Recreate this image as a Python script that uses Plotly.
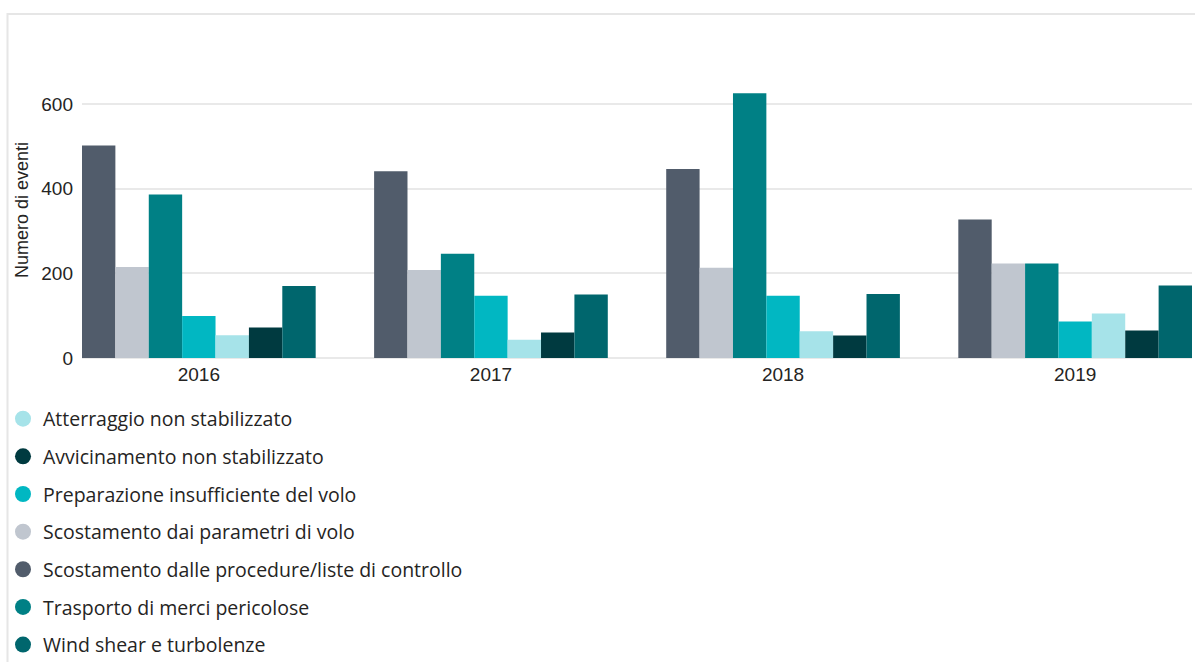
import plotly.graph_objects as go

# Years on the category axis
anni = ["2016", "2017", "2018", "2019"]

# Event counts per category, one list per series (bar order inside each year)
scostamento_procedure = [502, 441, 446, 327]
scostamento_parametri = [215, 208, 213, 223]
trasporto_merci = [386, 246, 625, 223]
preparazione_volo = [99, 147, 147, 86]
atterraggio_non_stab = [54, 43, 63, 105]
avvicinamento_non_stab = [72, 60, 53, 65]
wind_shear = [170, 150, 151, 171]

y_ticks = [0, 200, 400, 600]

# (name, values, colour, legend position)
series = [
    ("Scostamento dalle procedure/liste di controllo", scostamento_procedure, "#515C6B", 5),
    ("Scostamento dai parametri di volo", scostamento_parametri, "#C0C6CF", 4),
    ("Trasporto di merci pericolose", trasporto_merci, "#008085", 6),
    ("Preparazione insufficiente del volo", preparazione_volo, "#01B7C2", 3),
    ("Atterraggio non stabilizzato", atterraggio_non_stab, "#A6E3E9", 1),
    ("Avvicinamento non stabilizzato", avvicinamento_non_stab, "#003A40", 2),
    ("Wind shear e turbolenze", wind_shear, "#00666D", 7),
]

W, H = 1195, 662
ML, MR, MT, MB = 82, 3, 61, 304
PW, PH = W - ML - MR, H - MT - MB


def px_x(p):
    return (p - ML) / PW


def px_y(p):
    return (H - MB - p) / PH


fig = go.Figure()

for name, vals, col, rank in series:
    fig.add_trace(go.Bar(
        x=anni, y=vals, name=name,
        marker=dict(color=col, line=dict(width=0)),
        showlegend=False,
    ))

# Legend entries drawn as round markers
for name, vals, col, rank in series:
    fig.add_trace(go.Scatter(
        x=[None], y=[None], mode="markers", name=name,
        marker=dict(color=col, size=16, symbol="circle"),
        legendgroup=name, legendrank=rank, showlegend=True,
    ))

fig.update_layout(
    width=W, height=H,
    margin=dict(l=ML, r=MR, t=MT, b=MB, autoexpand=False),
    paper_bgcolor="white", plot_bgcolor="white",
    barmode="group", bargap=0.2, bargroupgap=0,
    font=dict(family="Liberation Sans, Arial, sans-serif", color="#252423"),
    showlegend=True,
    legend=dict(
        orientation="v", x=px_x(3), y=px_y(399.5), xanchor="left", yanchor="top",
        font=dict(family="Open Sans, sans-serif", size=19.5, color="#252423"),
        tracegroupgap=9.3, bgcolor="rgba(0,0,0,0)", borderwidth=0,
    ),
    xaxis=dict(
        type="category", range=[-0.4, 3.4], showgrid=False, showline=False,
        zeroline=False, ticks="", ticklabelstandoff=3,
        tickfont=dict(size=19, color="#252423"), fixedrange=True,
    ),
    yaxis=dict(
        range=[0, PH / 0.4235], tickvals=y_ticks, showgrid=True,
        gridcolor="#E9E9E9", gridwidth=1.5, zeroline=True, zerolinecolor="#E9E9E9",
        zerolinewidth=1.5, showline=False, ticks="", ticklabelstandoff=8,
        tickfont=dict(size=19, color="#252423"), fixedrange=True,
    ),
    annotations=[dict(
        text="Numero di eventi", x=px_x(22), y=px_y(210), xref="paper", yref="paper",
        xanchor="center", yanchor="middle", textangle=-90, showarrow=False,
        font=dict(size=18, color="#252423"),
    )],
    shapes=[dict(
        type="rect", xref="paper", yref="paper",
        x0=px_x(7.5), x1=px_x(1210), y0=px_y(680), y1=px_y(14),
        line=dict(color="#E6E6E6", width=2), fillcolor="rgba(0,0,0,0)", layer="below",
    )],
)

fig.write_html("out.html")
